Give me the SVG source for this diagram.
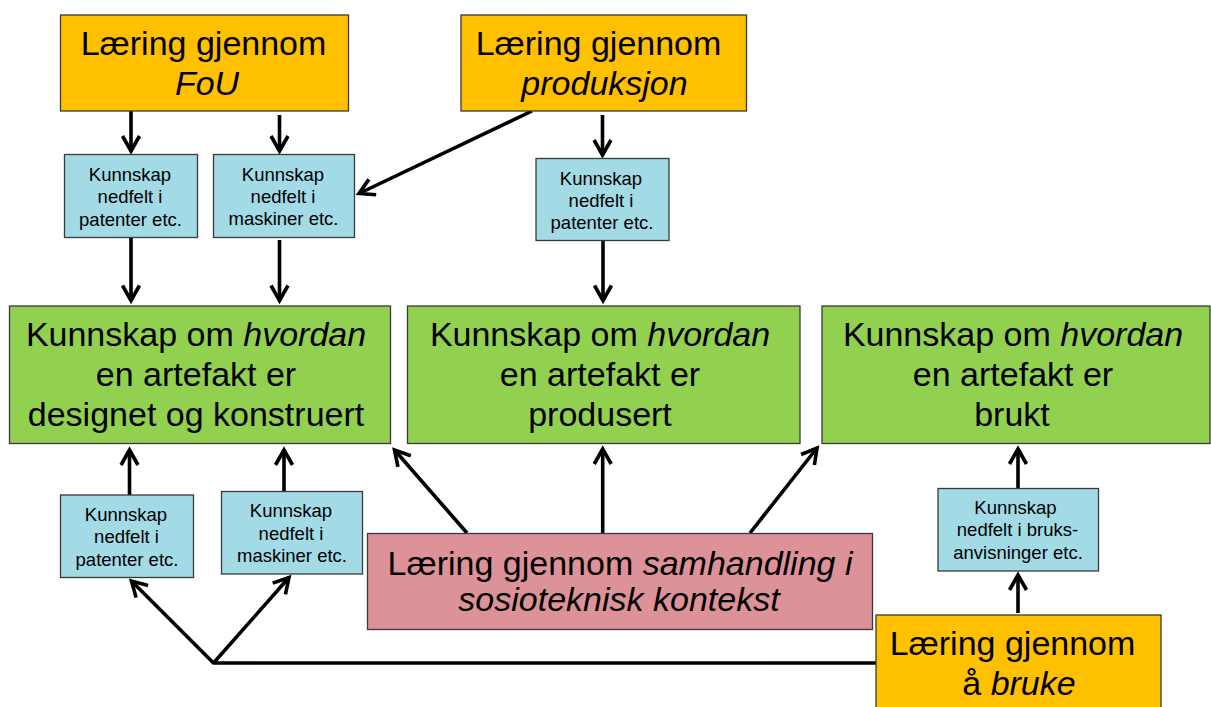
<svg xmlns="http://www.w3.org/2000/svg" width="1211" height="707" viewBox="0 0 1211 707">
<style>
.bx{stroke:#3a3a3a;stroke-width:1.3}
.or{fill:#FFC000}
.gr{fill:#92D050}
.bl{fill:#A2DAE6}
.pk{fill:#DC9298}
.big{font-family:"Liberation Sans",Arial,sans-serif;font-size:34px;fill:#000;text-anchor:middle}
.sm{font-family:"Liberation Sans",Arial,sans-serif;font-size:18.5px;fill:#000;text-anchor:middle}
.it{font-style:italic}
.cn{stroke:#000;stroke-width:3.6;fill:none}
</style>
<defs>
<marker id="ah" markerUnits="userSpaceOnUse" viewBox="-22 -12 28 24" refX="0" refY="0" markerWidth="28" markerHeight="24" orient="auto" overflow="visible">
<path d="M-15,-8.5 L0,0 L-15,8.5" fill="none" stroke="#000" stroke-width="3.6"/>
</marker>
</defs>
<rect width="1211" height="707" fill="#fff"/>

<g id="connectors">
<line class="cn" x1="131" y1="111" x2="131" y2="151" marker-end="url(#ah)"/>
<line class="cn" x1="279.5" y1="115" x2="279.5" y2="151" marker-end="url(#ah)"/>
<line class="cn" x1="532" y1="111" x2="359" y2="193.5" marker-end="url(#ah)"/>
<line class="cn" x1="602.5" y1="115" x2="602.5" y2="155" marker-end="url(#ah)"/>
<line class="cn" x1="131" y1="238" x2="131" y2="300.5" marker-end="url(#ah)"/>
<line class="cn" x1="279.5" y1="240" x2="279.5" y2="300.5" marker-end="url(#ah)"/>
<line class="cn" x1="603" y1="241" x2="603" y2="300.5" marker-end="url(#ah)"/>
<line class="cn" x1="129.5" y1="495" x2="129.5" y2="450" marker-end="url(#ah)"/>
<line class="cn" x1="284" y1="491" x2="284" y2="450" marker-end="url(#ah)"/>
<line class="cn" x1="467" y1="533" x2="394.5" y2="450" marker-end="url(#ah)"/>
<line class="cn" x1="602.7" y1="533" x2="602.7" y2="449" marker-end="url(#ah)"/>
<line class="cn" x1="750" y1="533" x2="817" y2="448" marker-end="url(#ah)"/>
<line class="cn" x1="213.5" y1="663" x2="131.5" y2="581" marker-end="url(#ah)"/>
<line class="cn" x1="213.5" y1="663" x2="289" y2="577.5" marker-end="url(#ah)"/>
<line class="cn" x1="876" y1="663" x2="213.5" y2="663" stroke-linecap="round"/>
<line class="cn" x1="1018" y1="488" x2="1018" y2="449" marker-end="url(#ah)"/>
<line class="cn" x1="1018" y1="613" x2="1018" y2="575" marker-end="url(#ah)"/>
</g>

<g id="fou">
<rect class="bx or" x="60.5" y="15" width="288" height="96"/>
<text class="big" x="203.5" y="55">Læring gjennom</text>
<text class="big it" x="207" y="95">FoU</text>
</g>

<g id="produksjon">
<rect class="bx or" x="461" y="15" width="285.5" height="96"/>
<text class="big" x="598.5" y="55">Læring gjennom</text>
<text class="big it" x="604.5" y="95">produksjon</text>
</g>

<g id="k-fou-patenter">
<rect class="bx bl" x="64.5" y="154.5" width="133" height="83"/>
<text class="sm" x="130" y="181">Kunnskap</text>
<text class="sm" x="130" y="203">nedfelt i</text>
<text class="sm" x="130.5" y="225.5">patenter etc.</text>
</g>

<g id="k-fou-maskiner">
<rect class="bx bl" x="213.5" y="154.5" width="141" height="83"/>
<text class="sm" x="283" y="180.5">Kunnskap</text>
<text class="sm" x="283" y="202.5">nedfelt i</text>
<text class="sm" x="283.5" y="225">maskiner etc.</text>
</g>

<g id="k-prod-patenter">
<rect class="bx bl" x="536" y="158.5" width="133" height="82"/>
<text class="sm" x="601" y="184.5">Kunnskap</text>
<text class="sm" x="601" y="206.5">nedfelt i</text>
<text class="sm" x="602" y="229">patenter etc.</text>
</g>

<g id="designet">
<rect class="bx gr" x="9.5" y="306" width="381" height="137.5"/>
<text class="big" x="196" y="345.5">Kunnskap om <tspan class="it">hvordan</tspan></text>
<text class="big" x="196" y="385.5">en artefakt er</text>
<text class="big" x="196" y="425.5">designet og konstruert</text>
</g>

<g id="produsert">
<rect class="bx gr" x="407.5" y="306" width="392.5" height="137.5"/>
<text class="big" x="600" y="345.5">Kunnskap om <tspan class="it">hvordan</tspan></text>
<text class="big" x="600" y="385.5">en artefakt er</text>
<text class="big" x="600" y="425.5">produsert</text>
</g>

<g id="brukt">
<rect class="bx gr" x="822" y="306" width="388" height="137.5"/>
<text class="big" x="1013" y="345.5">Kunnskap om <tspan class="it">hvordan</tspan></text>
<text class="big" x="1013" y="385.5">en artefakt er</text>
<text class="big" x="1012" y="425.5">brukt</text>
</g>

<g id="k-patenter-2">
<rect class="bx bl" x="60.5" y="495" width="133" height="82.5"/>
<text class="sm" x="126" y="520.5">Kunnskap</text>
<text class="sm" x="126.5" y="543">nedfelt i</text>
<text class="sm" x="127" y="565.5">patenter etc.</text>
</g>

<g id="k-maskiner-2">
<rect class="bx bl" x="221.5" y="491.5" width="141" height="82.5"/>
<text class="sm" x="291" y="517">Kunnskap</text>
<text class="sm" x="291" y="539.5">nedfelt i</text>
<text class="sm" x="292" y="562">maskiner etc.</text>
</g>

<g id="samhandling">
<rect class="bx pk" x="367.5" y="533.5" width="505" height="96"/>
<text class="big" x="620" y="575">Læring gjennom <tspan class="it">samhandling i</tspan></text>
<text class="big it" x="619" y="610.5">sosioteknisk kontekst</text>
</g>

<g id="k-bruks">
<rect class="bx bl" x="938" y="488.5" width="160.5" height="82.5"/>
<text class="sm" x="1015.5" y="513.5">Kunnskap</text>
<text class="sm" x="1017.5" y="536">nedfelt i bruks-</text>
<text class="sm" x="1018" y="559">anvisninger etc.</text>
</g>

<g id="bruke">
<rect class="bx or" x="876" y="615" width="285" height="110"/>
<text class="big" x="1012.5" y="655">Læring gjennom</text>
<text class="big" x="1019" y="695">å <tspan class="it">bruke</tspan></text>
</g>
</svg>
